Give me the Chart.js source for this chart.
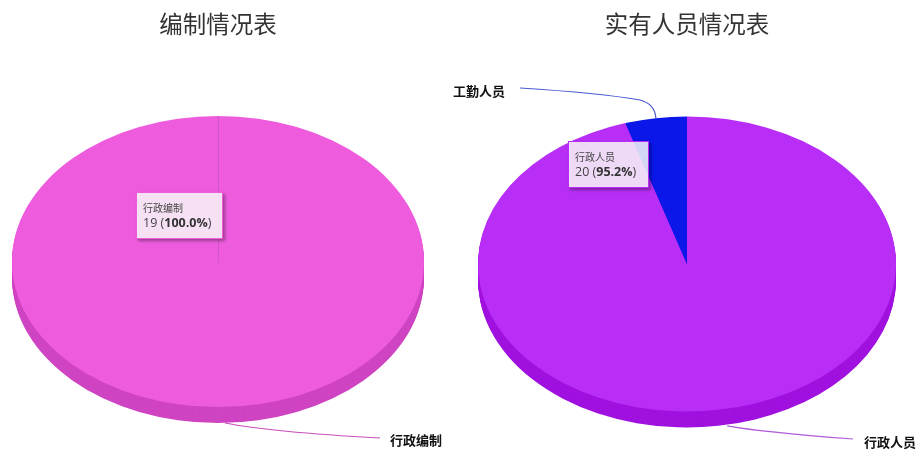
<!DOCTYPE html>
<html>
<head>
<meta charset="utf-8">
<title>编制情况表</title>
<script src="https://cdn.jsdelivr.net/npm/chart.js@4"></script>
<style>
    html, body { margin: 0; padding: 0; background: #fff; }
    #page { position: relative; width: 917px; height: 450px; overflow: hidden; }
    .pie { position: absolute; top: 0; height: 450px; }
    .tip {
        position: absolute; box-sizing: border-box; padding: 8px 6px;
        background: rgba(247, 247, 247, 0.85); border: 1px solid;
        box-shadow: 2px 2px 3px rgba(0, 0, 0, 0.35);
        font-family: "Open Sans", "Noto Sans CJK SC", sans-serif; color: #444; white-space: nowrap;
    }
    .tip .name { font-size: 10px; line-height: 14px; font-family: "Noto Sans CJK SC", sans-serif; }
    .tip .val { font-size: 12.5px; line-height: 16px; }
    .tip .val b { color: #333; }
</style>
</head>
<body>
<div id="page">
    <div class="pie" style="left:-22px;width:480px"><canvas id="budget"></canvas></div>
    <div class="pie" style="left:440px;width:494px"><canvas id="staff"></canvas></div>
</div>
<script>
const budgetCategories = ['行政编制'];
const budgetValues = [19];
const budgetColors = ['#ee5cdd'];
const budgetSideColors = ['#cf44c2'];

const staffCategories = ['行政人员', '工勤人员'];
const staffValues = [20, 1];
const staffColors = ['#b92ef6', '#0a17e8'];
const staffSideColors = ['#a011df', '#0a17e8'];

Chart.defaults.animation = false;

// connector path per slice, page coordinates
function curveBudget(ctx, a) {
    ctx.moveTo(a.x, a.y);
    ctx.quadraticCurveTo(270, 432, 380, 438);
}
function curveStaffMain(ctx, a) {
    ctx.moveTo(a.x, a.y);
    ctx.quadraticCurveTo(760, 432, 853, 439);
}
function curveStaffSmall(ctx, a) {
    ctx.moveTo(a.x, a.y);
    ctx.quadraticCurveTo(655, 104, 640, 100);
    ctx.quadraticCurveTo(600, 93, 520, 88);
}

function makePie(cfg) {
    const sum = cfg.values.reduce((a, b) => a + b, 0);
    const page = document.getElementById('page');

    const pie3d = {
        id: 'pie3d',
        beforeDatasetDraw(chart, args) {
            const arcs = chart.getDatasetMeta(args.index).data;
            const ctx = chart.ctx;
            const cx = arcs[0].x, cy = arcs[0].y;
            // side wall: the same arcs again, pushed down in the darker colour
            for (let d = cfg.depth; d >= 1; d--) {
                arcs.forEach((arc, i) => {
                    const keep = arc.options;
                    arc.options = Object.assign({}, keep, {backgroundColor: cfg.sideColors[i], borderWidth: 0});
                    ctx.save();
                    ctx.translate(cx, cy + d);
                    ctx.scale(1, cfg.tilt);
                    ctx.translate(-cx, -cy);
                    arc.draw(ctx);
                    ctx.restore();
                    arc.options = keep;
                });
            }
            ctx.save();
            ctx.translate(cx, cy);
            ctx.scale(1, cfg.tilt);
            ctx.translate(-cx, -cy);
        },
        afterDatasetDraw(chart, args) {
            const arcs = chart.getDatasetMeta(args.index).data;
            const ctx = chart.ctx;
            ctx.restore();
            const r = arcs[0].outerRadius;
            if (cfg.seam) {
                const a = arcs[0].startAngle;
                ctx.beginPath();
                ctx.moveTo(arcs[0].x + 0.5, arcs[0].y + 1);
                ctx.lineTo(arcs[0].x + 0.5 + Math.cos(a) * r, arcs[0].y + Math.sin(a) * r * cfg.tilt);
                ctx.strokeStyle = cfg.seam;
                ctx.lineWidth = 1;
                ctx.stroke();
            }
            ctx.save();
            ctx.translate(-cfg.left, 0);
            arcs.forEach((arc, i) => {
                const l = cfg.labels[i];
                const mid = (arc.startAngle + arc.endAngle) / 2;
                const anchor = {
                    x: arc.x + cfg.left + Math.cos(mid) * r + l.dx,
                    y: arc.y + Math.sin(mid) * r * cfg.tilt + l.dy
                };
                ctx.beginPath();
                l.path(ctx, anchor);
                ctx.strokeStyle = cfg.lineColors[i];
                ctx.lineWidth = 1.2;
                ctx.stroke();
                ctx.font = 'bold 13px "Noto Sans CJK SC"';
                ctx.fillStyle = '#111';
                ctx.textBaseline = 'middle';
                ctx.textAlign = 'left';
                ctx.fillText(cfg.categories[i], l.x, l.y);
            });
            ctx.restore();
        }
    };

    const chart = new Chart(document.getElementById(cfg.id), {
        type: 'pie',
        data: {
            labels: cfg.categories,
            datasets: [{
                data: cfg.values,
                backgroundColor: cfg.colors,
                borderWidth: 0,
                clip: false
            }]
        },
        options: {
            responsive: true,
            maintainAspectRatio: false,
            events: [],
            radius: cfg.radius,
            plugins: {
                legend: {display: false},
                title: {
                    display: true,
                    text: cfg.title,
                    color: '#333',
                    font: {size: 23.5, weight: 'normal', family: '"Noto Sans CJK SC"'},
                    padding: {top: 10, bottom: cfg.titleGap}
                },
                tooltip: {
                    enabled: false,
                    external({tooltip}) {
                        const p = tooltip.dataPoints[0];
                        const tip = document.createElement('div');
                        tip.className = 'tip';
                        tip.style.left = cfg.tip.x + 'px';
                        tip.style.top = cfg.tip.y + 'px';
                        tip.style.width = cfg.tip.w + 'px';
                        tip.style.height = cfg.tip.h + 'px';
                        tip.style.borderColor = cfg.colors[p.dataIndex];
                        const name = document.createElement('div');
                        name.className = 'name';
                        name.textContent = p.label;
                        const val = document.createElement('div');
                        val.className = 'val';
                        const pct = document.createElement('b');
                        pct.textContent = (p.raw / sum * 100).toFixed(1) + '%';
                        val.append(p.raw + ' (', pct, ')');
                        tip.append(name, val);
                        page.append(tip);
                    }
                }
            }
        },
        plugins: [pie3d]
    });
    chart.tooltip.setActiveElements([{datasetIndex: 0, index: 0}], {x: 0, y: 0});
    chart.render();
}

makePie({
    id: 'budget', title: '编制情况表', left: -22,
    categories: budgetCategories, values: budgetValues,
    colors: budgetColors, sideColors: budgetSideColors, lineColors: ['#c64fbb'],
    radius: 206, tilt: 145.5 / 206, depth: 16, titleGap: 34.8, seam: '#cf55c8',
    tip: {x: 136, y: 192, w: 87, h: 47},
    labels: [{x: 390, y: 440, dx: 7, dy: 16, path: curveBudget}]
});

makePie({
    id: 'staff', title: '实有人员情况表', left: 440,
    categories: staffCategories, values: staffValues,
    colors: staffColors, sideColors: staffSideColors, lineColors: ['#b05ad8', '#4a5ad0'],
    radius: 209, tilt: 147.5 / 209, depth: 16, titleGap: 39.8,
    tip: {x: 568, y: 141, w: 81, h: 47},
    labels: [
        {x: 864, y: 442, dx: 9, dy: 16, path: curveStaffMain},
        {x: 453, y: 91, dx: 0, dy: 0, path: curveStaffSmall}
    ]
});
</script>
</body>
</html>
